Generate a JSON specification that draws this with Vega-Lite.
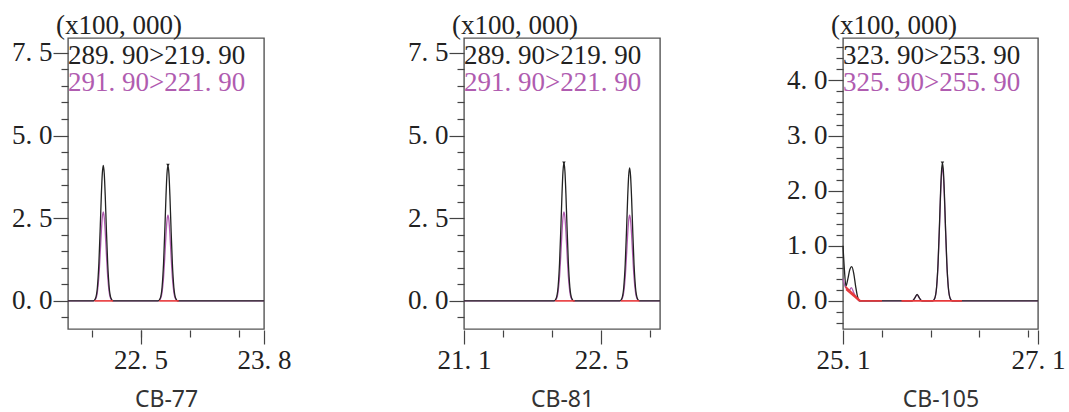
{
  "$schema": "https://vega.github.io/schema/vega-lite/v6.json",
  "padding": {"left": 10, "top": 11, "right": 0, "bottom": 0},
  "background": "white",
  "datasets": {
    "p1": [
      {"s": "291. 90>221. 90", "t": 21.76, "v": 0},
      {"s": "291. 90>221. 90", "t": 22.02, "v": 0},
      {"s": "291. 90>221. 90", "t": 22.04, "v": 0.046},
      {"s": "291. 90>221. 90", "t": 22.06, "v": 0.272},
      {"s": "291. 90>221. 90", "t": 22.075, "v": 0.74},
      {"s": "291. 90>221. 90", "t": 22.09, "v": 1.514},
      {"s": "291. 90>221. 90", "t": 22.10, "v": 2.085},
      {"s": "291. 90>221. 90", "t": 22.11, "v": 2.523},
      {"s": "291. 90>221. 90", "t": 22.12, "v": 2.69},
      {"s": "291. 90>221. 90", "t": 22.13, "v": 2.523},
      {"s": "291. 90>221. 90", "t": 22.14, "v": 2.085},
      {"s": "291. 90>221. 90", "t": 22.15, "v": 1.514},
      {"s": "291. 90>221. 90", "t": 22.165, "v": 0.74},
      {"s": "291. 90>221. 90", "t": 22.18, "v": 0.272},
      {"s": "291. 90>221. 90", "t": 22.20, "v": 0.046},
      {"s": "291. 90>221. 90", "t": 22.22, "v": 0},
      {"s": "291. 90>221. 90", "t": 22.68, "v": 0},
      {"s": "291. 90>221. 90", "t": 22.70, "v": 0.044},
      {"s": "291. 90>221. 90", "t": 22.72, "v": 0.262},
      {"s": "291. 90>221. 90", "t": 22.735, "v": 0.712},
      {"s": "291. 90>221. 90", "t": 22.75, "v": 1.458},
      {"s": "291. 90>221. 90", "t": 22.76, "v": 2.007},
      {"s": "291. 90>221. 90", "t": 22.77, "v": 2.429},
      {"s": "291. 90>221. 90", "t": 22.78, "v": 2.59},
      {"s": "291. 90>221. 90", "t": 22.79, "v": 2.429},
      {"s": "291. 90>221. 90", "t": 22.80, "v": 2.007},
      {"s": "291. 90>221. 90", "t": 22.81, "v": 1.458},
      {"s": "291. 90>221. 90", "t": 22.825, "v": 0.712},
      {"s": "291. 90>221. 90", "t": 22.84, "v": 0.262},
      {"s": "291. 90>221. 90", "t": 22.86, "v": 0.044},
      {"s": "291. 90>221. 90", "t": 22.88, "v": 0},
      {"s": "291. 90>221. 90", "t": 23.76, "v": 0},
      {"s": "289. 90>219. 90", "t": 21.76, "v": 0},
      {"s": "289. 90>219. 90", "t": 22.02, "v": 0},
      {"s": "289. 90>219. 90", "t": 22.04, "v": 0.07},
      {"s": "289. 90>219. 90", "t": 22.06, "v": 0.414},
      {"s": "289. 90>219. 90", "t": 22.075, "v": 1.128},
      {"s": "289. 90>219. 90", "t": 22.09, "v": 2.308},
      {"s": "289. 90>219. 90", "t": 22.10, "v": 3.178},
      {"s": "289. 90>219. 90", "t": 22.11, "v": 3.846},
      {"s": "289. 90>219. 90", "t": 22.12, "v": 4.10},
      {"s": "289. 90>219. 90", "t": 22.13, "v": 3.846},
      {"s": "289. 90>219. 90", "t": 22.14, "v": 3.178},
      {"s": "289. 90>219. 90", "t": 22.15, "v": 2.308},
      {"s": "289. 90>219. 90", "t": 22.165, "v": 1.128},
      {"s": "289. 90>219. 90", "t": 22.18, "v": 0.414},
      {"s": "289. 90>219. 90", "t": 22.20, "v": 0.07},
      {"s": "289. 90>219. 90", "t": 22.22, "v": 0},
      {"s": "289. 90>219. 90", "t": 22.68, "v": 0},
      {"s": "289. 90>219. 90", "t": 22.70, "v": 0.07},
      {"s": "289. 90>219. 90", "t": 22.72, "v": 0.414},
      {"s": "289. 90>219. 90", "t": 22.735, "v": 1.128},
      {"s": "289. 90>219. 90", "t": 22.75, "v": 2.308},
      {"s": "289. 90>219. 90", "t": 22.76, "v": 3.178},
      {"s": "289. 90>219. 90", "t": 22.77, "v": 3.846},
      {"s": "289. 90>219. 90", "t": 22.78, "v": 4.10},
      {"s": "289. 90>219. 90", "t": 22.79, "v": 3.846},
      {"s": "289. 90>219. 90", "t": 22.80, "v": 3.178},
      {"s": "289. 90>219. 90", "t": 22.81, "v": 2.308},
      {"s": "289. 90>219. 90", "t": 22.825, "v": 1.128},
      {"s": "289. 90>219. 90", "t": 22.84, "v": 0.414},
      {"s": "289. 90>219. 90", "t": 22.86, "v": 0.07},
      {"s": "289. 90>219. 90", "t": 22.88, "v": 0},
      {"s": "289. 90>219. 90", "t": 23.76, "v": 0},
      {"s": "red", "g": 1, "t": 22.03, "v": 0},
      {"s": "red", "g": 1, "t": 22.22, "v": 0},
      {"s": "red", "g": 2, "t": 22.69, "v": 0},
      {"s": "red", "g": 2, "t": 22.89, "v": 0},
      {"s": "top", "t": 22.78, "v": 4.10}
    ],
    "p2": [
      {"s": "291. 90>221. 90", "t": 21.10, "v": 0},
      {"s": "291. 90>221. 90", "t": 22.02, "v": 0},
      {"s": "291. 90>221. 90", "t": 22.04, "v": 0.046},
      {"s": "291. 90>221. 90", "t": 22.06, "v": 0.272},
      {"s": "291. 90>221. 90", "t": 22.075, "v": 0.74},
      {"s": "291. 90>221. 90", "t": 22.09, "v": 1.514},
      {"s": "291. 90>221. 90", "t": 22.10, "v": 2.085},
      {"s": "291. 90>221. 90", "t": 22.11, "v": 2.523},
      {"s": "291. 90>221. 90", "t": 22.12, "v": 2.69},
      {"s": "291. 90>221. 90", "t": 22.13, "v": 2.523},
      {"s": "291. 90>221. 90", "t": 22.14, "v": 2.085},
      {"s": "291. 90>221. 90", "t": 22.15, "v": 1.514},
      {"s": "291. 90>221. 90", "t": 22.165, "v": 0.74},
      {"s": "291. 90>221. 90", "t": 22.18, "v": 0.272},
      {"s": "291. 90>221. 90", "t": 22.20, "v": 0.046},
      {"s": "291. 90>221. 90", "t": 22.22, "v": 0},
      {"s": "291. 90>221. 90", "t": 22.69, "v": 0},
      {"s": "291. 90>221. 90", "t": 22.71, "v": 0.044},
      {"s": "291. 90>221. 90", "t": 22.73, "v": 0.262},
      {"s": "291. 90>221. 90", "t": 22.745, "v": 0.712},
      {"s": "291. 90>221. 90", "t": 22.76, "v": 1.458},
      {"s": "291. 90>221. 90", "t": 22.77, "v": 2.007},
      {"s": "291. 90>221. 90", "t": 22.78, "v": 2.429},
      {"s": "291. 90>221. 90", "t": 22.79, "v": 2.59},
      {"s": "291. 90>221. 90", "t": 22.80, "v": 2.429},
      {"s": "291. 90>221. 90", "t": 22.81, "v": 2.007},
      {"s": "291. 90>221. 90", "t": 22.82, "v": 1.458},
      {"s": "291. 90>221. 90", "t": 22.835, "v": 0.712},
      {"s": "291. 90>221. 90", "t": 22.85, "v": 0.262},
      {"s": "291. 90>221. 90", "t": 22.87, "v": 0.044},
      {"s": "291. 90>221. 90", "t": 22.89, "v": 0},
      {"s": "291. 90>221. 90", "t": 23.10, "v": 0},
      {"s": "289. 90>219. 90", "t": 21.10, "v": 0},
      {"s": "289. 90>219. 90", "t": 22.02, "v": 0},
      {"s": "289. 90>219. 90", "t": 22.04, "v": 0.071},
      {"s": "289. 90>219. 90", "t": 22.06, "v": 0.421},
      {"s": "289. 90>219. 90", "t": 22.075, "v": 1.147},
      {"s": "289. 90>219. 90", "t": 22.09, "v": 2.348},
      {"s": "289. 90>219. 90", "t": 22.10, "v": 3.232},
      {"s": "289. 90>219. 90", "t": 22.11, "v": 3.911},
      {"s": "289. 90>219. 90", "t": 22.12, "v": 4.17},
      {"s": "289. 90>219. 90", "t": 22.13, "v": 3.911},
      {"s": "289. 90>219. 90", "t": 22.14, "v": 3.232},
      {"s": "289. 90>219. 90", "t": 22.15, "v": 2.348},
      {"s": "289. 90>219. 90", "t": 22.165, "v": 1.147},
      {"s": "289. 90>219. 90", "t": 22.18, "v": 0.421},
      {"s": "289. 90>219. 90", "t": 22.20, "v": 0.071},
      {"s": "289. 90>219. 90", "t": 22.22, "v": 0},
      {"s": "289. 90>219. 90", "t": 22.69, "v": 0},
      {"s": "289. 90>219. 90", "t": 22.71, "v": 0.068},
      {"s": "289. 90>219. 90", "t": 22.73, "v": 0.406},
      {"s": "289. 90>219. 90", "t": 22.745, "v": 1.106},
      {"s": "289. 90>219. 90", "t": 22.76, "v": 2.263},
      {"s": "289. 90>219. 90", "t": 22.77, "v": 3.116},
      {"s": "289. 90>219. 90", "t": 22.78, "v": 3.771},
      {"s": "289. 90>219. 90", "t": 22.79, "v": 4.02},
      {"s": "289. 90>219. 90", "t": 22.80, "v": 3.771},
      {"s": "289. 90>219. 90", "t": 22.81, "v": 3.116},
      {"s": "289. 90>219. 90", "t": 22.82, "v": 2.263},
      {"s": "289. 90>219. 90", "t": 22.835, "v": 1.106},
      {"s": "289. 90>219. 90", "t": 22.85, "v": 0.406},
      {"s": "289. 90>219. 90", "t": 22.87, "v": 0.068},
      {"s": "289. 90>219. 90", "t": 22.89, "v": 0},
      {"s": "289. 90>219. 90", "t": 23.10, "v": 0},
      {"s": "red", "g": 1, "t": 22.03, "v": 0},
      {"s": "red", "g": 1, "t": 22.23, "v": 0},
      {"s": "red", "g": 2, "t": 22.70, "v": 0},
      {"s": "red", "g": 2, "t": 22.89, "v": 0},
      {"s": "top", "t": 22.12, "v": 4.17}
    ],
    "p3": [
      {"s": "325. 90>255. 90", "t": 25.10, "v": 0.40},
      {"s": "325. 90>255. 90", "t": 25.12, "v": 0.27},
      {"s": "325. 90>255. 90", "t": 25.14, "v": 0.21},
      {"s": "325. 90>255. 90", "t": 25.165, "v": 0.19},
      {"s": "325. 90>255. 90", "t": 25.185, "v": 0.24},
      {"s": "325. 90>255. 90", "t": 25.21, "v": 0.15},
      {"s": "325. 90>255. 90", "t": 25.24, "v": 0.05},
      {"s": "325. 90>255. 90", "t": 25.27, "v": 0},
      {"s": "325. 90>255. 90", "t": 25.81, "v": 0},
      {"s": "325. 90>255. 90", "t": 25.835, "v": 0.045},
      {"s": "325. 90>255. 90", "t": 25.86, "v": 0.11},
      {"s": "325. 90>255. 90", "t": 25.885, "v": 0.045},
      {"s": "325. 90>255. 90", "t": 25.91, "v": 0},
      {"s": "325. 90>255. 90", "t": 26.02, "v": 0},
      {"s": "325. 90>255. 90", "t": 26.04, "v": 0.041},
      {"s": "325. 90>255. 90", "t": 26.06, "v": 0.244},
      {"s": "325. 90>255. 90", "t": 26.075, "v": 0.666},
      {"s": "325. 90>255. 90", "t": 26.09, "v": 1.362},
      {"s": "325. 90>255. 90", "t": 26.10, "v": 1.876},
      {"s": "325. 90>255. 90", "t": 26.11, "v": 2.27},
      {"s": "325. 90>255. 90", "t": 26.12, "v": 2.42},
      {"s": "325. 90>255. 90", "t": 26.13, "v": 2.27},
      {"s": "325. 90>255. 90", "t": 26.14, "v": 1.876},
      {"s": "325. 90>255. 90", "t": 26.15, "v": 1.362},
      {"s": "325. 90>255. 90", "t": 26.165, "v": 0.666},
      {"s": "325. 90>255. 90", "t": 26.18, "v": 0.244},
      {"s": "325. 90>255. 90", "t": 26.20, "v": 0.041},
      {"s": "325. 90>255. 90", "t": 26.22, "v": 0},
      {"s": "325. 90>255. 90", "t": 27.10, "v": 0},
      {"s": "323. 90>253. 90", "t": 25.10, "v": 1.00},
      {"s": "323. 90>253. 90", "t": 25.115, "v": 0.55},
      {"s": "323. 90>253. 90", "t": 25.13, "v": 0.27},
      {"s": "323. 90>253. 90", "t": 25.15, "v": 0.40},
      {"s": "323. 90>253. 90", "t": 25.17, "v": 0.57},
      {"s": "323. 90>253. 90", "t": 25.19, "v": 0.62},
      {"s": "323. 90>253. 90", "t": 25.21, "v": 0.50},
      {"s": "323. 90>253. 90", "t": 25.23, "v": 0.26},
      {"s": "323. 90>253. 90", "t": 25.25, "v": 0.07},
      {"s": "323. 90>253. 90", "t": 25.27, "v": 0},
      {"s": "323. 90>253. 90", "t": 25.81, "v": 0},
      {"s": "323. 90>253. 90", "t": 25.835, "v": 0.05},
      {"s": "323. 90>253. 90", "t": 25.86, "v": 0.12},
      {"s": "323. 90>253. 90", "t": 25.885, "v": 0.05},
      {"s": "323. 90>253. 90", "t": 25.91, "v": 0},
      {"s": "323. 90>253. 90", "t": 26.02, "v": 0},
      {"s": "323. 90>253. 90", "t": 26.04, "v": 0.043},
      {"s": "323. 90>253. 90", "t": 26.06, "v": 0.253},
      {"s": "323. 90>253. 90", "t": 26.075, "v": 0.688},
      {"s": "323. 90>253. 90", "t": 26.09, "v": 1.408},
      {"s": "323. 90>253. 90", "t": 26.10, "v": 1.938},
      {"s": "323. 90>253. 90", "t": 26.11, "v": 2.345},
      {"s": "323. 90>253. 90", "t": 26.12, "v": 2.50},
      {"s": "323. 90>253. 90", "t": 26.13, "v": 2.345},
      {"s": "323. 90>253. 90", "t": 26.14, "v": 1.938},
      {"s": "323. 90>253. 90", "t": 26.15, "v": 1.408},
      {"s": "323. 90>253. 90", "t": 26.165, "v": 0.688},
      {"s": "323. 90>253. 90", "t": 26.18, "v": 0.253},
      {"s": "323. 90>253. 90", "t": 26.20, "v": 0.043},
      {"s": "323. 90>253. 90", "t": 26.22, "v": 0},
      {"s": "323. 90>253. 90", "t": 27.10, "v": 0},
      {"s": "red", "g": 1, "t": 25.125, "v": 0.26},
      {"s": "red", "g": 1, "t": 25.278, "v": 0},
      {"s": "red", "g": 2, "t": 25.131, "v": 0.21},
      {"s": "red", "g": 2, "t": 25.268, "v": 0},
      {"s": "red", "g": 3, "t": 25.27, "v": 0},
      {"s": "red", "g": 3, "t": 25.50, "v": 0},
      {"s": "red", "g": 4, "t": 25.70, "v": 0},
      {"s": "red", "g": 4, "t": 26.32, "v": 0},
      {"s": "top", "t": 26.12, "v": 2.50}
    ]
  },
  "hconcat": [
    {
      "spacing": 114,
      "resolve": {"scale": {"color": "independent"}, "legend": {"color": "independent"}},
      "hconcat": [
        {
          "width": 196, "height": 291,
          "title": {"text": "(x100, 000)"},
          "data": {"name": "p1"},
          "layer": [
            {
              "transform": [{"filter": "datum.s !== 'red' && datum.s !== 'top'"}],
              "mark": {"type": "line", "interpolate": "monotone", "strokeWidth": 1.3},
              "encoding": {
                "x": {"field": "t", "type": "quantitative", "scale": {"domain": [21.76, 23.76], "nice": false, "zero": false},
                      "axis": {"orient": "bottom", "values": [22.5, 23.76], "tickSize": 14, "offset": 1, "labelPadding": 3, "labelExpr": "replace(format(datum.value, '.1f'), '.', '. ')", "title": "CB-77", "titlePadding": 15}},
                "y": {"field": "v", "type": "quantitative", "scale": {"domain": [-0.85, 7.95], "nice": false, "zero": false},
                      "axis": {"orient": "left", "values": [0, 2.5, 5, 7.5], "tickSize": 15, "labelPadding": 1, "labelExpr": "replace(format(datum.value, '.1f'), '.', '. ')", "title": null}},
                "color": {"field": "s", "type": "nominal", "scale": {"range": ["#222222", "#b05cb0"]},
                          "legend": {"orient": "top-left", "offset": 0, "padding": 4, "title": null, "labelOffset": -31, "symbolType": "circle", "symbolSize": 0,
                                     "encode": {"labels": {"update": {"fill": {"signal": "datum.index === 0 ? '#222222' : '#b05cb0'"}}}}}}
              }
            },
            {
              "transform": [{"filter": "datum.s === 'red'"}],
              "mark": {"type": "line", "color": "#e8383a", "strokeWidth": 1.6},
              "encoding": {
                "x": {"field": "t", "type": "quantitative", "scale": {"domain": [21.76, 23.76], "nice": false, "zero": false},
                      "axis": {"orient": "bottom", "values": [22.0, 22.5, 23.0, 23.5], "tickSize": 7, "offset": 1, "labels": false, "title": null}},
                "y": {"field": "v", "type": "quantitative", "scale": {"domain": [-0.85, 7.95], "nice": false, "zero": false},
                      "axis": {"orient": "left", "values": [-0.5, 0.5, 1, 1.5, 2, 3, 3.5, 4, 4.5, 5.5, 6, 6.5, 7], "tickSize": 7, "labels": false, "title": null}},
                "detail": {"field": "g"}
              }
            },
            {
              "transform": [{"filter": "datum.s === 'top'"}],
              "mark": {"type": "point", "shape": "triangle-down", "filled": true, "size": 12, "color": "#222222", "opacity": 1},
              "encoding": {
                "x": {"field": "t", "type": "quantitative", "scale": {"domain": [21.76, 23.76], "nice": false, "zero": false}, "axis": null},
                "y": {"field": "v", "type": "quantitative", "scale": {"domain": [-0.85, 7.95], "nice": false, "zero": false}, "axis": null}
              }
            }
          ],
          "resolve": {"axis": {"x": "independent", "y": "independent"}}
        },
        {
          "width": 196, "height": 291,
          "title": {"text": "(x100, 000)"},
          "data": {"name": "p2"},
          "layer": [
            {
              "transform": [{"filter": "datum.s !== 'red' && datum.s !== 'top'"}],
              "mark": {"type": "line", "interpolate": "monotone", "strokeWidth": 1.3},
              "encoding": {
                "x": {"field": "t", "type": "quantitative", "scale": {"domain": [21.1, 23.1], "nice": false, "zero": false},
                      "axis": {"orient": "bottom", "values": [21.1, 22.5], "tickSize": 14, "offset": 1, "labelPadding": 3, "labelExpr": "replace(format(datum.value, '.1f'), '.', '. ')", "title": "CB-81", "titlePadding": 15}},
                "y": {"field": "v", "type": "quantitative", "scale": {"domain": [-0.85, 7.95], "nice": false, "zero": false},
                      "axis": {"orient": "left", "values": [0, 2.5, 5, 7.5], "tickSize": 15, "labelPadding": 1, "labelExpr": "replace(format(datum.value, '.1f'), '.', '. ')", "title": null}},
                "color": {"field": "s", "type": "nominal", "scale": {"range": ["#222222", "#b05cb0"]},
                          "legend": {"orient": "top-left", "offset": 0, "padding": 4, "title": null, "labelOffset": -31, "symbolType": "circle", "symbolSize": 0,
                                     "encode": {"labels": {"update": {"fill": {"signal": "datum.index === 0 ? '#222222' : '#b05cb0'"}}}}}}
              }
            },
            {
              "transform": [{"filter": "datum.s === 'red'"}],
              "mark": {"type": "line", "color": "#e8383a", "strokeWidth": 1.6},
              "encoding": {
                "x": {"field": "t", "type": "quantitative", "scale": {"domain": [21.1, 23.1], "nice": false, "zero": false},
                      "axis": {"orient": "bottom", "values": [21.5, 22.0, 23.0], "tickSize": 7, "offset": 1, "labels": false, "title": null}},
                "y": {"field": "v", "type": "quantitative", "scale": {"domain": [-0.85, 7.95], "nice": false, "zero": false},
                      "axis": {"orient": "left", "values": [-0.5, 0.5, 1, 1.5, 2, 3, 3.5, 4, 4.5, 5.5, 6, 6.5, 7], "tickSize": 7, "labels": false, "title": null}},
                "detail": {"field": "g"}
              }
            },
            {
              "transform": [{"filter": "datum.s === 'top'"}],
              "mark": {"type": "point", "shape": "triangle-down", "filled": true, "size": 12, "color": "#222222", "opacity": 1},
              "encoding": {
                "x": {"field": "t", "type": "quantitative", "scale": {"domain": [21.1, 23.1], "nice": false, "zero": false}, "axis": null},
                "y": {"field": "v", "type": "quantitative", "scale": {"domain": [-0.85, 7.95], "nice": false, "zero": false}, "axis": null}
              }
            }
          ],
          "resolve": {"axis": {"x": "independent", "y": "independent"}}
        }
      ]
    },
    {
      "width": 195, "height": 291,
      "title": {"text": "(x100, 000)"},
      "data": {"name": "p3"},
      "layer": [
        {
          "transform": [{"filter": "datum.s !== 'red' && datum.s !== 'top'"}],
          "mark": {"type": "line", "interpolate": "monotone", "strokeWidth": 1.3},
          "encoding": {
            "x": {"field": "t", "type": "quantitative", "scale": {"domain": [25.1, 27.1], "nice": false, "zero": false},
                  "axis": {"orient": "bottom", "values": [25.1, 27.1], "tickSize": 14, "offset": 1, "labelPadding": 3, "labelExpr": "replace(format(datum.value, '.1f'), '.', '. ')", "title": "CB-105", "titlePadding": 15}},
            "y": {"field": "v", "type": "quantitative", "scale": {"domain": [-0.51, 4.77], "nice": false, "zero": false},
                  "axis": {"orient": "left", "values": [0, 1, 2, 3, 4], "tickSize": 15, "labelPadding": 1, "labelExpr": "replace(format(datum.value, '.1f'), '.', '. ')", "title": null}},
            "color": {"field": "s", "type": "nominal", "scale": {"range": ["#222222", "#b05cb0"]},
                      "legend": {"orient": "top-left", "offset": 0, "padding": 4, "title": null, "labelOffset": -31, "symbolType": "circle", "symbolSize": 0,
                                 "encode": {"labels": {"update": {"fill": {"signal": "datum.index === 0 ? '#222222' : '#b05cb0'"}}}}}}
          }
        },
        {
          "transform": [{"filter": "datum.s === 'red'"}],
          "mark": {"type": "line", "color": "#e8383a", "strokeWidth": 1.6},
          "encoding": {
            "x": {"field": "t", "type": "quantitative", "scale": {"domain": [25.1, 27.1], "nice": false, "zero": false},
                  "axis": {"orient": "bottom", "values": [25.5, 26.0, 26.5, 27.0], "tickSize": 7, "offset": 1, "labels": false, "title": null}},
            "y": {"field": "v", "type": "quantitative", "scale": {"domain": [-0.51, 4.77], "nice": false, "zero": false},
                  "axis": {"orient": "left", "values": [-0.4, -0.2, 0.2, 0.4, 0.6, 0.8, 1.2, 1.4, 1.6, 1.8, 2.2, 2.4, 2.6, 2.8, 3.2, 3.4, 3.6, 3.8, 4.2, 4.4, 4.6], "tickSize": 7, "labels": false, "title": null}},
            "detail": {"field": "g"}
          }
        },
        {
          "transform": [{"filter": "datum.s === 'top'"}],
          "mark": {"type": "point", "shape": "triangle-down", "filled": true, "size": 12, "color": "#222222", "opacity": 1},
          "encoding": {
            "x": {"field": "t", "type": "quantitative", "scale": {"domain": [25.1, 27.1], "nice": false, "zero": false}, "axis": null},
            "y": {"field": "v", "type": "quantitative", "scale": {"domain": [-0.51, 4.77], "nice": false, "zero": false}, "axis": null}
          }
        }
      ],
      "resolve": {"axis": {"x": "independent", "y": "independent"}}
    }
  ],
  "spacing": 121,
  "resolve": {"scale": {"color": "independent"}, "legend": {"color": "independent"}},
  "config": {
    "view": {"stroke": "#555555", "strokeWidth": 1.4},
    "axis": {"grid": false, "domain": false, "labelFont": "Liberation Serif", "labelFontSize": 27, "labelColor": "#222222",
             "tickColor": "#444444", "tickWidth": 1.2, "labelFlush": false, "labelOverlap": false,
             "titleFont": "Noto Sans", "titleFontSize": 23, "titleFontWeight": "normal", "titleColor": "#333333"},
    "legend": {"labelFont": "Liberation Serif", "labelFontSize": 27, "labelLimit": 400, "symbolStrokeWidth": 0, "symbolOpacity": 0, "rowPadding": -3},
    "title": {"anchor": "start", "frame": "group", "dx": -12, "offset": -2, "baseline": "alphabetic", "font": "Liberation Serif", "fontSize": 27, "fontWeight": "normal", "color": "#222222"}
  }
}
